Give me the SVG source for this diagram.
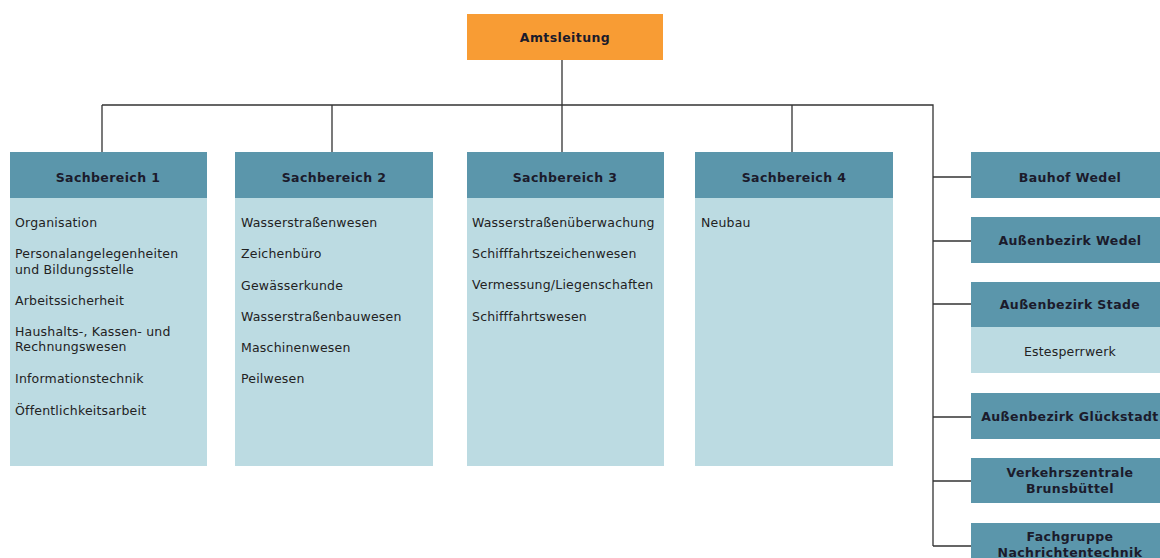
<svg xmlns="http://www.w3.org/2000/svg" width="1160" height="558" viewBox="0 0 1160 558">
<style>
.hd{fill:#5b96ab}
.bd{fill:#bcdbe2}
.or{fill:#f89c34}
.ht{font-family:"DejaVu Sans",Verdana,sans-serif;font-size:12.5px;font-weight:bold;letter-spacing:0.4px;fill:#1b1b2b;text-anchor:middle}
.tx{font-family:"DejaVu Sans",Verdana,sans-serif;font-size:12.5px;letter-spacing:0.2px;fill:#222}
.txc{font-family:"DejaVu Sans",Verdana,sans-serif;font-size:12.5px;letter-spacing:0.2px;fill:#222;text-anchor:middle}
.ln{stroke:#333;stroke-width:1.3;fill:none}
</style>
<rect width="1160" height="558" fill="#fff"/>
<g id="connectors">
<path class="ln" d="M562,60V152M102,105H933V546M102,105V152M332,105V152M792,105V152"/>
<path class="ln" d="M933,177H971M933,241H971M933,304H971M933,417H971M933,481H971M933,546H971"/>
</g>
<g id="amtsleitung">
<rect class="or" x="467" y="14" width="196" height="46"/>
<text class="ht" x="565" y="42">Amtsleitung</text>
</g>
<g id="sb1">
<rect class="hd" x="10" y="152" width="197" height="46"/>
<rect class="bd" x="10" y="198" width="197" height="268"/>
<text class="ht" x="108" y="182">Sachbereich 1</text>
<text class="tx" x="15" y="227">Organisation</text>
<text class="tx" x="15" y="258">Personalangelegenheiten</text>
<text class="tx" x="15" y="274">und Bildungsstelle</text>
<text class="tx" x="15" y="305">Arbeitssicherheit</text>
<text class="tx" x="15" y="336">Haushalts-, Kassen- und</text>
<text class="tx" x="15" y="351">Rechnungswesen</text>
<text class="tx" x="15" y="383">Informationstechnik</text>
<text class="tx" x="15" y="415">Öffentlichkeitsarbeit</text>
</g>
<g id="sb2">
<rect class="hd" x="235" y="152" width="198" height="46"/>
<rect class="bd" x="235" y="198" width="198" height="268"/>
<text class="ht" x="334" y="182">Sachbereich 2</text>
<text class="tx" x="241" y="227">Wasserstraßenwesen</text>
<text class="tx" x="241" y="258">Zeichenbüro</text>
<text class="tx" x="241" y="290">Gewässerkunde</text>
<text class="tx" x="241" y="321">Wasserstraßenbauwesen</text>
<text class="tx" x="241" y="352">Maschinenwesen</text>
<text class="tx" x="241" y="383">Peilwesen</text>
</g>
<g id="sb3">
<rect class="hd" x="467" y="152" width="197" height="46"/>
<rect class="bd" x="467" y="198" width="197" height="268"/>
<text class="ht" x="565" y="182">Sachbereich 3</text>
<text class="tx" x="472" y="227">Wasserstraßenüberwachung</text>
<text class="tx" x="472" y="258">Schifffahrtszeichenwesen</text>
<text class="tx" x="472" y="289">Vermessung/Liegenschaften</text>
<text class="tx" x="472" y="321">Schifffahrtswesen</text>
</g>
<g id="sb4">
<rect class="hd" x="695" y="152" width="198" height="46"/>
<rect class="bd" x="695" y="198" width="198" height="268"/>
<text class="ht" x="794" y="182">Sachbereich 4</text>
<text class="tx" x="701" y="227">Neubau</text>
</g>
<g id="bauhof">
<rect class="hd" x="971" y="152" width="198" height="46"/>
<text class="ht" x="1070" y="182">Bauhof Wedel</text>
</g>
<g id="abwedel">
<rect class="hd" x="971" y="217" width="198" height="46"/>
<text class="ht" x="1070" y="245">Außenbezirk Wedel</text>
</g>
<g id="abstade">
<rect class="hd" x="971" y="282" width="198" height="45"/>
<rect class="bd" x="971" y="327" width="198" height="46"/>
<text class="ht" x="1070" y="309">Außenbezirk Stade</text>
<text class="txc" x="1070" y="356">Estesperrwerk</text>
</g>
<g id="abglueckstadt">
<rect class="hd" x="971" y="393" width="198" height="46"/>
<text class="ht" x="1070" y="421">Außenbezirk Glückstadt</text>
</g>
<g id="vkz">
<rect class="hd" x="971" y="458" width="198" height="45"/>
<text class="ht" x="1070" y="477">Verkehrszentrale</text>
<text class="ht" x="1070" y="493">Brunsbüttel</text>
</g>
<g id="fachgruppe">
<rect class="hd" x="971" y="523" width="198" height="46"/>
<text class="ht" x="1070" y="541">Fachgruppe</text>
<text class="ht" x="1070" y="557">Nachrichtentechnik</text>
</g>
</svg>
